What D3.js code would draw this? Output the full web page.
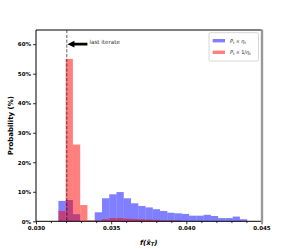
<!DOCTYPE html>
<html>
<head>
<meta charset="utf-8">
<script src="https://cdn.jsdelivr.net/npm/d3@7"></script>
<style>
html,body{margin:0;padding:0;background:#fff;}
svg{display:block;font-family:"DejaVu Sans",sans-serif;}
</style>
</head>
<body>
<svg id="chart" width="291" height="249"></svg>
<script>
// ---- data ----
const binStart = 0.03149;
const binWidth = 0.000483;
const blueValues = [6.9,7.2,2.4,0,0,3.05,7.8,9.15,9.9,7.8,6.1,5.2,4.7,4.1,3.5,2.9,2.7,2.5,1.9,1.9,2.2,1.8,1.1,1.1,1.6,0.7];
const redValues  = [3.5,55,26,5.5,0.4,0.2,0.7,1.1,1.1,0.9,0.8,0.7,0.6,0.5,0.3,0.3,0.3,0,0,0,0,0,0,0,0,0];
const lastIterate = 0.03205;
const xTicks = [0.030,0.035,0.040,0.045];
const xMinorTicks = [0.031,0.032,0.033,0.034,0.036,0.037,0.038,0.039,0.041,0.042,0.043,0.044];
const yTicks = [0,10,20,30,40,50,60];
const seriesNames = ["blue","red"];

// ---- layout ----
const svg = d3.select("#chart");
const L = 36, R = 261.5, T = 30, B = 221.3;
const x = d3.scaleLinear().domain([0.030,0.045]).range([L,R]);
const y = d3.scaleLinear().domain([0,64.8]).range([B,T]);

function bins(vals){ return vals.map((v,i)=>({x0:binStart+i*binWidth, x1:binStart+(i+1)*binWidth, v})); }

const g = svg.append("g");
g.selectAll("rect.blue").data(bins(blueValues).filter(d=>d.v>0)).join("rect")
  .attr("x",d=>x(d.x0)).attr("width",d=>x(d.x1)-x(d.x0))
  .attr("y",d=>y(d.v)).attr("height",d=>y(0)-y(d.v))
  .attr("fill","#0000ff").attr("fill-opacity",0.5);
g.selectAll("rect.red").data(bins(redValues).filter(d=>d.v>0)).join("rect")
  .attr("x",d=>x(d.x0)).attr("width",d=>x(d.x1)-x(d.x0))
  .attr("y",d=>y(d.v)).attr("height",d=>y(0)-y(d.v))
  .attr("fill","#ff0000").attr("fill-opacity",0.5);

// dashed line
svg.append("line").attr("x1",x(lastIterate)).attr("x2",x(lastIterate))
  .attr("y1",T).attr("y2",B).attr("stroke","#000").attr("stroke-opacity",0.7)
  .attr("stroke-width",0.9).attr("stroke-dasharray","3.2,1.6");

// axes
const xAxis = d3.axisBottom(x).tickValues(xTicks).tickFormat(d3.format(".3f")).tickSize(3).tickPadding(2);
const xg = svg.append("g").attr("transform",`translate(0,${B})`).call(xAxis);
xg.select(".domain").remove();
xg.selectAll("text").attr("font-size","5.5px").attr("font-weight","bold").attr("font-family","DejaVu Sans").attr("fill","#000");
const xm = svg.append("g").attr("transform",`translate(0,${B})`).call(d3.axisBottom(x).tickValues(xMinorTicks).tickSize(1.8).tickFormat(""));
xm.select(".domain").remove();

const yAxis = d3.axisLeft(y).tickValues(yTicks).tickFormat(d=>d+"%").tickSize(3).tickPadding(2);
const yg = svg.append("g").attr("transform",`translate(${L},0)`).call(yAxis);
yg.select(".domain").remove();
yg.selectAll("text").attr("font-size","5.5px").attr("font-weight","bold").attr("font-family","DejaVu Sans").attr("fill","#000");
svg.selectAll(".tick line").attr("stroke","#000").attr("stroke-width",0.8);

// spines
svg.append("line").attr("x1",L).attr("x2",R).attr("y1",T).attr("y2",T).attr("stroke","#000").attr("stroke-width",1);
svg.append("line").attr("x1",L).attr("x2",R).attr("y1",B).attr("y2",B).attr("stroke","#000").attr("stroke-width",1);
svg.append("line").attr("x1",L).attr("x2",L).attr("y1",T).attr("y2",B).attr("stroke","#000").attr("stroke-width",1);
svg.append("line").attr("x1",R+0.5).attr("x2",R+0.5).attr("y1",T-0.5).attr("y2",B+0.5).attr("stroke","#999").attr("stroke-width",2.4);

// annotation arrow
const ay = y(60), tipX = x(lastIterate)+0.6, tailX = x(0.03342);
const hl = 7, hw = 3.4, sw = 1.3;
svg.append("path").attr("d",
  `M${tipX},${ay} L${tipX+hl},${ay-hw} L${tipX+hl},${ay-sw} L${tailX},${ay-sw} L${tailX},${ay+sw} L${tipX+hl},${ay+sw} L${tipX+hl},${ay+hw} Z`)
  .attr("fill","#000");
svg.append("text").attr("x",tailX+2).attr("y",ay-0.5).attr("font-size","5.6px").attr("fill","#333").text("last iterate");

// axis labels
svg.append("text").attr("transform",`translate(13,${(T+B)/2}) rotate(-90)`).attr("text-anchor","middle")
  .attr("font-size","7px").attr("font-weight","bold").text("Probability (%)");
const xl = svg.append("text").attr("x",(L+R)/2).attr("y",244.5).attr("text-anchor","middle")
  .attr("font-size","7px").attr("font-style","italic").attr("font-weight","bold");
xl.append("tspan").text("f(x\u0302");
xl.append("tspan").attr("font-size","5px").attr("dy","1.5").text("T");
xl.append("tspan").attr("dy","-1.5").text(")");

// legend
const lg = svg.append("g");
lg.append("rect").attr("x",209).attr("y",32.7).attr("width",49.5).attr("height",28.3).attr("rx",1.5)
  .attr("fill","#fff").attr("fill-opacity",0.8).attr("stroke","#ccc").attr("stroke-width",0.8);
const legendItems = [{c:"#0000ff", s:"", yy:40.7},{c:"#ff0000", s:"1/", yy:52.3}];
legendItems.forEach((it,i)=>{
  lg.append("rect").attr("x",212.7).attr("y",it.yy-1.7).attr("width",12.3).attr("height",3.4)
    .attr("fill",it.c).attr("fill-opacity",0.5);
  const t = lg.append("text").attr("x",230).attr("y",it.yy+1.8).attr("font-size","5px").attr("fill","#222");
  t.append("tspan").attr("font-style","italic").text("P");
  t.append("tspan").attr("font-style","italic").attr("font-size","3.6px").attr("dy","1").text("t");
  t.append("tspan").attr("dy","-1").text(" \u221D " + it.s);
  t.append("tspan").attr("font-style","italic").text("\u03B7");
  t.append("tspan").attr("font-style","italic").attr("font-size","3.6px").attr("dy","1").text("t");
});
</script>
</body>
</html>
